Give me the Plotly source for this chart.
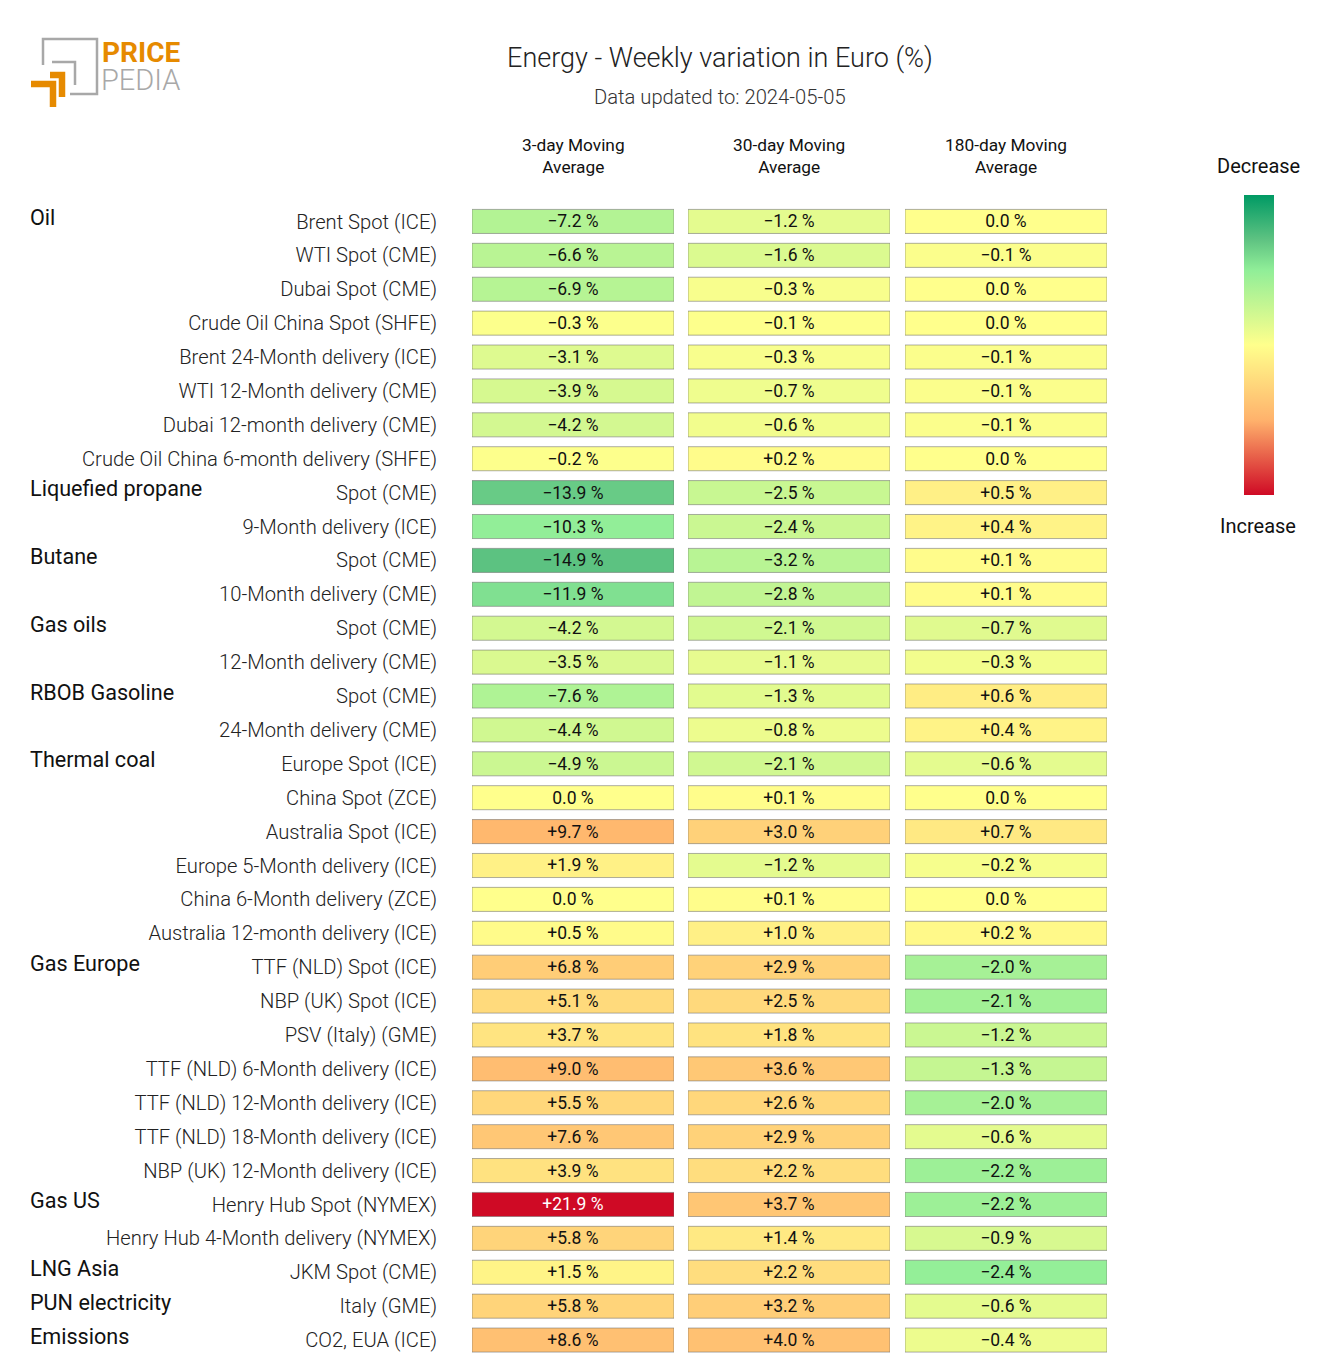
import plotly.graph_objects as go

# chart values
products = ["Brent Spot (ICE)", "WTI Spot (CME)", "Dubai Spot (CME)", "Crude Oil China Spot (SHFE)",
            "Brent 24-Month delivery (ICE)", "WTI 12-Month delivery (CME)", "Dubai 12-month delivery (CME)",
            "Crude Oil China 6-month delivery (SHFE)", "Spot (CME)", "9-Month delivery (ICE)", "Spot (CME)",
            "10-Month delivery (CME)", "Spot (CME)", "12-Month delivery (CME)", "Spot (CME)",
            "24-Month delivery (CME)", "Europe Spot (ICE)", "China Spot (ZCE)", "Australia Spot (ICE)",
            "Europe 5-Month delivery (ICE)", "China 6-Month delivery (ZCE)", "Australia 12-month delivery (ICE)",
            "TTF (NLD) Spot (ICE)", "NBP (UK) Spot (ICE)", "PSV (Italy) (GME)", "TTF (NLD) 6-Month delivery (ICE)",
            "TTF (NLD) 12-Month delivery (ICE)", "TTF (NLD) 18-Month delivery (ICE)", "NBP (UK) 12-Month delivery (ICE)",
            "Henry Hub Spot (NYMEX)", "Henry Hub 4-Month delivery (NYMEX)", "JKM Spot (CME)", "Italy (GME)",
            "CO2, EUA (ICE)"]
ma3 = [-7.2, -6.6, -6.9, -0.3, -3.1, -3.9, -4.2, -0.2, -13.9, -10.3, -14.9, -11.9, -4.2, -3.5, -7.6, -4.4, -4.9,
       0.0, 9.7, 1.9, 0.0, 0.5, 6.8, 5.1, 3.7, 9.0, 5.5, 7.6, 3.9, 21.9, 5.8, 1.5, 5.8, 8.6]
ma30 = [-1.2, -1.6, -0.3, -0.1, -0.3, -0.7, -0.6, 0.2, -2.5, -2.4, -3.2, -2.8, -2.1, -1.1, -1.3, -0.8, -2.1,
        0.1, 3.0, -1.2, 0.1, 1.0, 2.9, 2.5, 1.8, 3.6, 2.6, 2.9, 2.2, 3.7, 1.4, 2.2, 3.2, 4.0]
ma180 = [0.0, -0.1, 0.0, 0.0, -0.1, -0.1, -0.1, 0.0, 0.5, 0.4, 0.1, 0.1, -0.7, -0.3, 0.6, 0.4, -0.6,
         0.0, 0.7, -0.2, 0.0, 0.2, -2.0, -2.1, -1.2, -1.3, -2.0, -0.6, -2.2, -2.2, -0.9, -2.4, -0.6, -0.4]
col_names = ["3-day Moving<br>Average", "30-day Moving<br>Average", "180-day Moving<br>Average"]
col_limits = [21, 10, 5]
groups = ["Oil", "Liquefied propane", "Butane", "Gas oils", "RBOB Gasoline", "Thermal coal", "Gas Europe",
          "Gas US", "LNG Asia", "PUN electricity", "Emissions"]
group_rows = [0, 8, 10, 12, 14, 16, 22, 29, 31, 32, 33]

W, H = 1320, 1357
FONT = "Roboto"
scale = [[0, "#cf0a25"], [0.25, "#ffb26c"], [0.5, "#ffff8c"], [0.75, "#90ee98"], [0.85, "#5fc382"], [1, "#009a64"]]
col_px = [(472, 674), (688, 890), (905, 1107)]


def px(x):
    return x / W


def py(y):
    return 1 - y / H


def fmt(v):
    if v == 0:
        return "0.0 %"
    return ("+" if v > 0 else "\u2212") + f"{abs(v):.1f} %"


def path(points):
    return "M " + " L ".join(f"{px(a)} {py(b)}" for a, b in points)


def label(x, y, text, size, color="#111", anchor="center", weight=400):
    return dict(xref="paper", yref="paper", x=px(x), y=py(y), text=text, showarrow=False, xanchor=anchor,
                yanchor="middle", font=dict(family=FONT, size=size, color=color, weight=weight))


rows = list(range(len(products)))
fig = go.Figure()
for i, vals in enumerate([ma3, ma30, ma180]):
    marker = dict(color=[-v for v in vals], colorscale=scale, cmin=-col_limits[i], cmax=col_limits[i],
                  line=dict(color="rgba(110,110,110,0.55)", width=1))
    if i == 0:
        marker["showscale"] = True
        marker["colorbar"] = dict(x=px(1244), xanchor="left", thickness=30, thicknessmode="pixels",
                                  y=py(195), yanchor="top", len=300, lenmode="pixels", outlinewidth=0,
                                  showticklabels=False, ticks="", xpad=0, ypad=0)
    fig.add_trace(go.Bar(
        x=[1] * len(rows), y=rows, orientation="h", xaxis=f"x{i + 1}", yaxis="y", width=0.71, marker=marker,
        text=[fmt(v) for v in vals], textposition="inside", insidetextanchor="middle", textangle=0,
        constraintext="none",
        insidetextfont=dict(family=FONT, size=17.5, color=["white" if abs(v) > 20 else "#111" for v in vals]),
        showlegend=False,
    ))

annotations = [label(720, 97, "Data updated to: 2024-05-05", 20.2, "#333", weight=300),
               label(100, 53, "PRICE", 28, "#e68a00", "left", 700),
               label(99, 80, "PEDIA", 29, "#a8a8a8", "left", 300),
               label(1258.5, 166, "Decrease", 20),
               label(1258, 526, "Increase", 20)]
for (a, b), name in zip(col_px, col_names):
    annotations.append(label((a + b) / 2, 156, name, 17.3))
for g, r in zip(groups, group_rows):
    annotations.append(dict(xref="paper", yref="y", x=px(28), y=r, yshift=4, text=g, showarrow=False,
                            xanchor="left", yanchor="middle",
                            font=dict(family=FONT, size=21.6, color="#111", weight=400)))

logo_gray = "#a8a8a8"
logo_orange = "#e68a00"
shapes = [
    dict(type="path", xref="paper", yref="paper", path=path([(43, 65), (43, 39), (97, 39), (97, 94), (70, 94)]),
         line=dict(color=logo_gray, width=2.5)),
    dict(type="path", xref="paper", yref="paper", path=path([(52, 62), (75, 62), (75, 85)]),
         line=dict(color=logo_gray, width=2.5)),
    dict(type="path", xref="paper", yref="paper", path=path([(50, 75), (62, 75), (62, 97)]),
         line=dict(color=logo_orange, width=6.5)),
    dict(type="path", xref="paper", yref="paper", path=path([(31, 84), (53, 84), (53, 107)]),
         line=dict(color=logo_orange, width=6.5)),
]

fig.update_layout(
    width=W, height=H, margin=dict(l=0, r=0, t=0, b=0), plot_bgcolor="white", paper_bgcolor="white",
    title=dict(text="Energy - Weekly variation in Euro (%)", x=px(720), xanchor="center", y=py(58), yanchor="middle",
               font=dict(family=FONT, size=27, color="#222", weight=300)),
    xaxis=dict(domain=[px(472), px(674)], range=[0, 1], visible=False),
    xaxis2=dict(domain=[px(688), px(890)], range=[0, 1], visible=False),
    xaxis3=dict(domain=[px(905), px(1107)], range=[0, 1], visible=False),
    yaxis=dict(domain=[py(1357), py(204.5)], range=[33.5, -0.5], tickmode="array", tickvals=rows, ticktext=products,
               ticklabelstandoff=34, showgrid=False, zeroline=False, showline=False, ticks="",
               tickfont=dict(family=FONT, size=20.2, color="#222", weight=300)),
    annotations=annotations, shapes=shapes,
)

fig.write_html("out.html", post_script="document.body.style.margin='0';", config=dict(displayModeBar=False))
